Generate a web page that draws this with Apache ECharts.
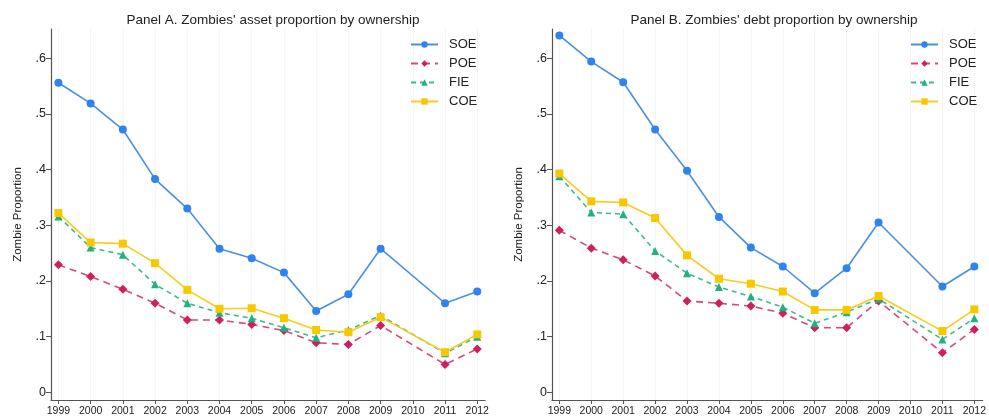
<!DOCTYPE html>
<html><head><meta charset="utf-8">
<script src="https://cdn.jsdelivr.net/npm/echarts@6/dist/echarts.min.js"></script>
<style>html,body{margin:0;padding:0;background:#fff}#c{width:989px;height:417px}</style>
</head><body><div id="c"></div>
<script>
var years = [1999,2000,2001,2002,2003,2004,2005,2006,2007,2008,2009,2010,2011,2012];
var yTicks = [0,0.1,0.2,0.3,0.4,0.5,0.6];
var seriesNames = ['SOE','POE','FIE','COE'];
// Panel A: asset proportion
var assetSOE = [0.556,0.519,0.472,0.383,0.330,0.258,0.241,0.215,0.146,0.176,0.258,null,0.160,0.181];
var assetPOE = [0.229,0.208,0.185,0.160,0.130,0.130,0.122,0.111,0.089,0.086,0.120,null,0.050,0.078];
var assetFIE = [0.316,0.260,0.247,0.194,0.160,0.143,0.133,0.116,0.098,0.112,0.138,null,0.070,0.100];
var assetCOE = [0.322,0.269,0.267,0.232,0.184,0.150,0.151,0.133,0.112,0.108,0.135,null,0.072,0.104];
// Panel B: debt proportion
var debtSOE = [0.641,0.594,0.557,0.472,0.398,0.315,0.260,0.226,0.178,0.223,0.305,null,0.190,0.226];
var debtPOE = [0.291,0.259,0.238,0.209,0.164,0.160,0.155,0.142,0.116,0.116,0.164,null,0.071,0.113];
var debtFIE = [0.388,0.323,0.320,0.254,0.214,0.189,0.172,0.153,0.124,0.144,0.168,null,0.095,0.133];
var debtCOE = [0.393,0.343,0.341,0.313,0.246,0.204,0.195,0.181,0.148,0.148,0.173,null,0.110,0.149];

var FONT = '"Liberation Sans", Arial, sans-serif';
var styles = {
  SOE: {color:'#2f83ec', line:'#4a90e2', symbol:'circle', size:8, type:'solid'},
  POE: {color:'#d01f5c', line:'#d44a78', symbol:'diamond', size:9, type:[7,5]},
  FIE: {color:'#22b07e', line:'#3dbb8d', symbol:'triangle', size:8, type:[5,4]},
  COE: {color:'#f7c800', line:'#f8cc1c', symbol:'rect', size:8, type:'solid'}
};
function pairs(arr){ return years.map(function(y,i){ return [y, arr[i]]; }); }
function mkSeries(name, arr, idx){
  var s = styles[name];
  return {
    name: name, type: 'line', xAxisIndex: idx, yAxisIndex: idx,
    data: pairs(arr), connectNulls: true, symbol: s.symbol, symbolSize: s.size,
    itemStyle: {color: s.color},
    lineStyle: {color: s.line, width: 1.6, type: s.type},
    emphasis: {disabled: true}, animation: false
  };
}
function mkX(idx, min, max){
  return {
    type:'value', gridIndex: idx, min:min, max:max,
    axisLine:{show:true, onZero:false, lineStyle:{color:'#555', width:1.2}},
    axisTick:{show:true, customValues: years, length:4, lineStyle:{color:'#555'}},
    axisLabel:{customValues: years, color:'#222', fontSize:10.5, fontFamily:FONT, margin:6,
      formatter:function(v){return String(Math.round(v));}},
    splitLine:{show:true, lineStyle:{color:'#ececec', type:'dotted', width:1}}
  };
}
function mkY(idx){
  return {
    type:'value', gridIndex: idx, min:-0.0138, max:0.6526,
    name:'Zombie Proportion', nameLocation:'middle', nameGap:27,
    nameTextStyle:{color:'#222', fontSize:11.5, fontFamily:FONT},
    axisLine:{show:true, lineStyle:{color:'#555', width:1.2}},
    axisTick:{show:true, customValues: yTicks, length:5, lineStyle:{color:'#555'}},
    axisLabel:{customValues: yTicks, color:'#222', fontSize:12.5, fontFamily:FONT, margin:5,
      formatter:function(v){ if (Math.abs(v)<1e-9) return '0'; return '.' + Math.round(v*10); }},
    splitLine:{show:false}
  };
}
function mkLegend(left){
  return {
    orient:'vertical', left:left, top:38, padding:0, itemWidth:27, itemHeight:8, itemGap:6,
    textStyle:{color:'#222', fontSize:13, fontFamily:FONT, padding:[0,0,0,6]},
    data: seriesNames, selectedMode:false
  };
}
var chart = echarts.init(document.getElementById('c'), null, {renderer:'canvas'});
chart.setOption({
  backgroundColor:'#fff',
  animation:false,
  title:[
    {text:"Panel A. Zombies' asset proportion by ownership", left:268, top:8, textAlign:'center',
     textStyle:{color:'#222', fontSize:13.5, fontWeight:'normal', fontFamily:FONT}},
    {text:"Panel B. Zombies' debt proportion by ownership", left:769, top:8, textAlign:'center',
     textStyle:{color:'#222', fontSize:13.5, fontWeight:'normal', fontFamily:FONT}}
  ],
  legend:[mkLegend(410), mkLegend(910)],
  grid:[
    {left:51, right:504, top:29, bottom:17},
    {left:552, right:2, top:29, bottom:17}
  ],
  xAxis:[mkX(0,1998.77,2012.24), mkX(1,1998.77,2012.26)],
  yAxis:[mkY(0), mkY(1)],
  series:[
    mkSeries('SOE', assetSOE, 0), mkSeries('POE', assetPOE, 0), mkSeries('FIE', assetFIE, 0), mkSeries('COE', assetCOE, 0),
    mkSeries('SOE', debtSOE, 1), mkSeries('POE', debtPOE, 1), mkSeries('FIE', debtFIE, 1), mkSeries('COE', debtCOE, 1)
  ]
});
</script></body></html>
